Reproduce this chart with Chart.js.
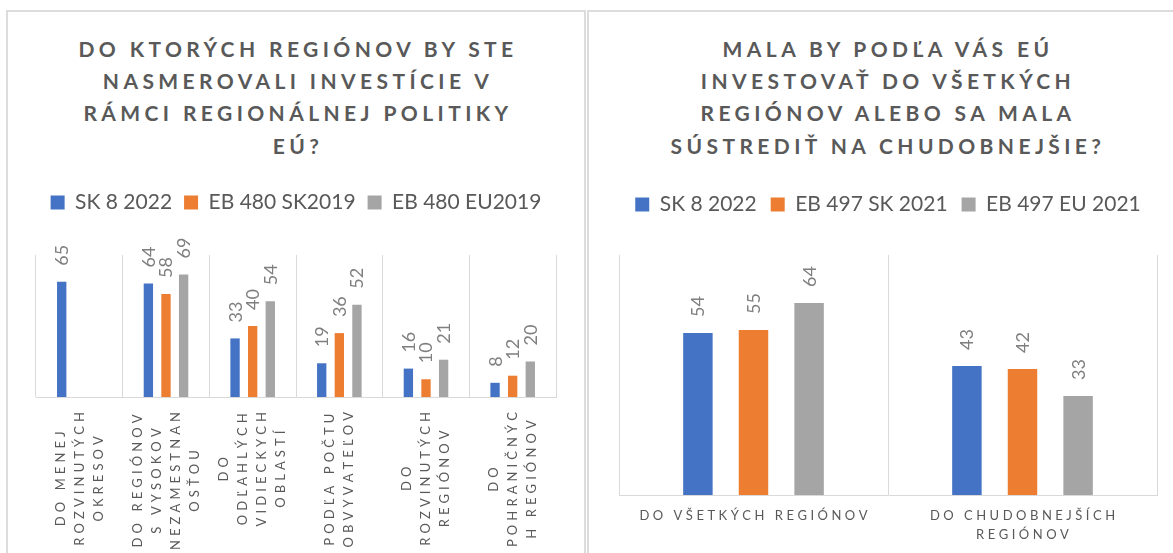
<!DOCTYPE html>
<html lang="sk">
<head>
<meta charset="utf-8">
<title>Regionálna politika EÚ</title>
<script src="https://cdn.jsdelivr.net/npm/chart.js@4.4.1/dist/chart.umd.min.js"></script>
<style>
  html, body { margin: 0; padding: 0; background: #fff; }
  body { width: 1173px; height: 553px; overflow: hidden; position: relative; font-family: Lato, sans-serif; }
  .panel { position: absolute; top: 10px; height: 600px; border: 2px solid #dcdcdc; box-sizing: border-box; }
  .title { position: absolute; top: 33px; text-align: center; font: bold 21px/32.2px Lato, sans-serif;
           letter-spacing: 4.4px; color: #595959; padding-left: 4px; box-sizing: border-box; }
  .wrap { position: absolute; top: 180px; height: 373px; }
</style>
</head>
<body>
<div class="panel" style="left:6px;width:580px"></div>
<div class="panel" style="left:587px;width:620px"></div>

<div class="title" style="left:6px;width:580px">DO KTORÝCH REGIÓNOV BY STE<br>NASMEROVALI INVESTÍCIE V<br>RÁMCI REGIONÁLNEJ POLITIKY<br>EÚ?</div>
<div class="title" style="left:587px;width:598px">MALA BY PODĽA VÁS EÚ<br>INVESTOVAŤ DO VŠETKÝCH<br>REGIÓNOV ALEBO SA MALA<br>SÚSTREDIŤ NA CHUDOBNEJŠIE?</div>

<div class="wrap" style="left:8px;width:575px"><canvas id="chartL"></canvas></div>
<div class="wrap" style="left:590px;width:583px"><canvas id="chartR"></canvas></div>

<script>
// left chart data
const regionsL = [
  ['DO MENEJ', 'ROZVINUTÝCH', 'OKRESOV'],
  ['DO REGIÓNOV', 'S VYSOKOV', 'NEZAMESTNAN', 'OSŤOU'],
  ['DO', 'ODĽAHLÝCH', 'VIDIECKYCH', 'OBLASTÍ'],
  ['PODĽA POČTU', 'OBVYVATEĽOV'],
  ['DO', 'ROZVINUTÝCH', 'REGIÓNOV'],
  ['DO', 'POHRANIČNÝC', 'H REGIÓNOV']
];
const sk2022L = [65, 64, 33, 19, 16, 8];
const eb480SK = [null, 58, 40, 36, 10, 12];
const eb480EU = [null, 69, 54, 52, 21, 20];

// right chart data
const regionsR = [
  ['DO VŠETKÝCH REGIÓNOV'],
  ['DO CHUDOBNEJŠÍCH', 'REGIÓNOV']
];
const sk2022R = [54, 43];
const eb497SK = [55, 42];
const eb497EU = [64, 33];

const BLUE = '#4472C4', ORANGE = '#ED7D31', GRAY = '#A5A5A5';
const TEXT = '#595959';

function spacedWidth(ctx, s, sp){
  const chars = Array.from(s);
  let w = 0;
  chars.forEach(c => { w += ctx.measureText(c).width; });
  return w + sp * (chars.length - 1);
}

function drawSpaced(ctx, s, x, y, sp){
  Array.from(s).forEach(c => {
    ctx.fillText(c, x, y);
    x += ctx.measureText(c).width + sp;
  });
}

// category labels with letter spacing, optionally rotated
const catLabels = {
  id: 'catLabels',
  afterDraw(chart, args, opts){
    const ctx = chart.ctx;
    const xs = chart.scales.x;
    ctx.save();
    ctx.font = opts.font;
    ctx.fillStyle = opts.color;
    ctx.textAlign = 'left';
    ctx.textBaseline = 'middle';
    chart.data.labels.forEach((lines, i) => {
      const x = xs.getPixelForValue(i);
      const widths = lines.map(l => spacedWidth(ctx, l, opts.spacing));
      const maxW = Math.max(...widths);
      lines.forEach((line, j) => {
        if(opts.rotate){
          const lx = x + (j - (lines.length - 1) / 2) * opts.lineHeight;
          ctx.save();
          ctx.translate(lx, xs.top + opts.offset + maxW / 2);
          ctx.rotate(-Math.PI / 2);
          drawSpaced(ctx, line, -widths[j] / 2, 0, opts.spacing);
          ctx.restore();
        } else {
          drawSpaced(ctx, line, x - widths[j] / 2, xs.top + opts.offset + j * opts.lineHeight, opts.spacing);
        }
      });
    });
    ctx.restore();
  }
};

// rotated value labels above bars
const barValues = {
  id: 'barValues',
  afterDatasetsDraw(chart, args, opts){
    const ctx = chart.ctx;
    ctx.save();
    ctx.font = opts.size + 'px Lato, sans-serif';
    ctx.fillStyle = opts.color;
    ctx.textAlign = 'left';
    ctx.textBaseline = 'alphabetic';
    chart.data.datasets.forEach((ds, di) => {
      chart.getDatasetMeta(di).data.forEach((bar, i) => {
        const v = ds.data[i];
        if(v == null) return;
        ctx.save();
        ctx.translate(bar.x, bar.y - opts.offset);
        ctx.rotate(-Math.PI / 2);
        ctx.fillText(String(v), 0, opts.size * 0.36);
        ctx.restore();
      });
    });
    ctx.restore();
  }
};

// fixed legend height, and keep all items on one row
function legendSpace(h){
  return {
    id: 'legendSpace',
    beforeInit(chart){
      const fit = chart.legend.fit;
      chart.legend.fit = function(){
        const mw = this.maxWidth;
        this.maxWidth = 10000;
        fit.call(this);
        this.maxWidth = mw;
        this.width = mw;
        this.height = h;
      };
    }
  };
}

function makeChart(id, labels, series, names, opt){
  const colors = [BLUE, ORANGE, GRAY];
  return new Chart(document.getElementById(id), {
    type: 'bar',
    data: {
      labels: labels,
      datasets: series.map((d, k) => ({
        label: names[k],
        data: d,
        backgroundColor: colors[k],
        borderWidth: 0,
        categoryPercentage: opt.catPct,
        barPercentage: 0.53
      }))
    },
    options: {
      responsive: true,
      maintainAspectRatio: false,
      animation: false,
      events: [],
      layout: { padding: { left: opt.padL, right: opt.padR, top: 0, bottom: 0 } },
      scales: {
        x: {
          ticks: { display: false },
          grid: { color: '#d9d9d9', lineWidth: 1, drawTicks: false, offset: true },
          border: { display: true, color: '#d9d9d9', width: 1 },
          afterFit(scale){ scale.height = opt.axisH; }
        },
        y: { display: false, min: 0, max: 80 }
      },
      plugins: {
        legend: {
          position: 'top',
          labels: {
            boxWidth: 14,
            boxHeight: 14,
            padding: opt.legendPad,
            color: TEXT,
            font: { family: 'Lato, sans-serif', size: 21 }
          }
        },
        tooltip: { enabled: false },
        catLabels: {
          font: '13px Lato, sans-serif',
          color: TEXT,
          spacing: opt.spacing,
          lineHeight: 19,
          rotate: opt.rotate,
          offset: opt.labelOffset
        },
        barValues: { size: 18, color: '#7f7f7f', offset: 16 }
      }
    },
    plugins: [legendSpace(opt.legendH), catLabels, barValues]
  });
}

makeChart('chartL', regionsL, [sk2022L, eb480SK, eb480EU], ['SK 8 2022', 'EB 480 SK2019', 'EB 480 EU2019'], {
  catPct: 0.61, padL: 28, padR: 27, axisH: 156, spacing: 4.1, rotate: true, labelOffset: 15,
  legendPad: 12, legendH: 75
});

makeChart('chartR', regionsR, [sk2022R, eb497SK, eb497EU], ['SK 8 2022', 'EB 497 SK 2021', 'EB 497 EU 2021'], {
  catPct: 0.62, padL: 29, padR: 16, axisH: 58, spacing: 3.5, rotate: false, labelOffset: 21,
  legendPad: 14, legendH: 75
});
</script>
</body>
</html>
